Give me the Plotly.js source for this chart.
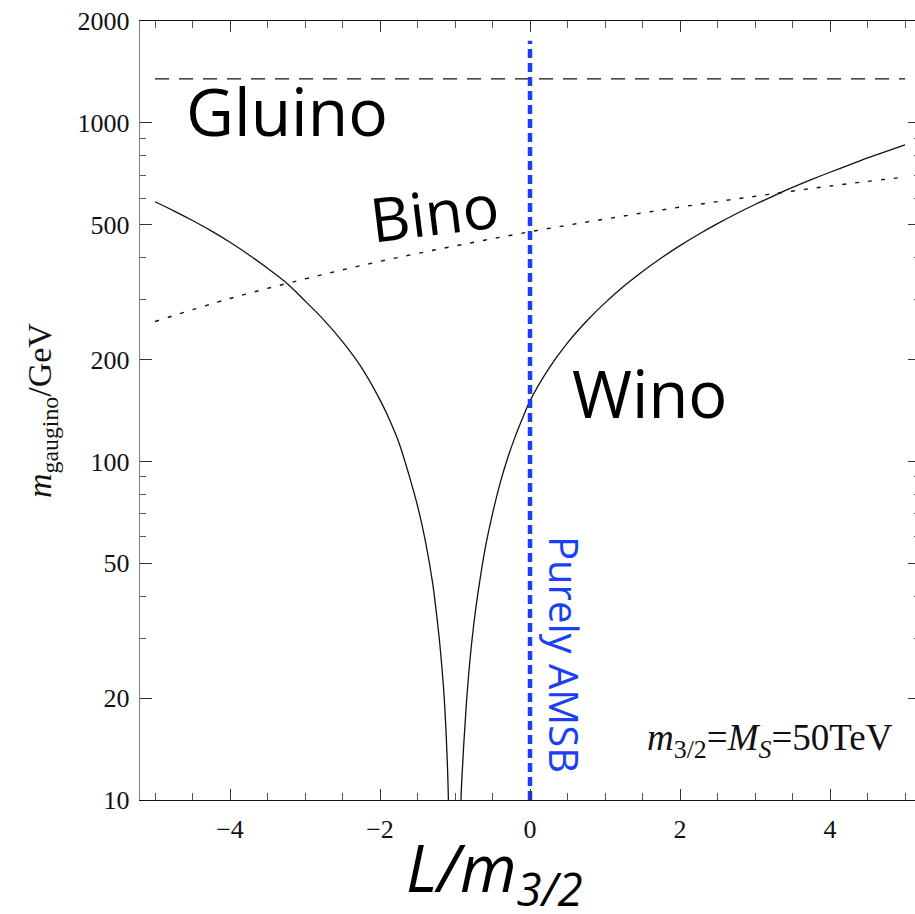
<!DOCTYPE html>
<html>
<head>
<meta charset="utf-8">
<script src="https://cdn.plot.ly/plotly-3.0.1.min.js"></script>
<style>
html,body{margin:0;padding:0;overflow:hidden;background:#fff;}
#plot{width:925px;height:914px;}
</style>
</head>
<body>
<div id="plot"></div>
<script>
// ---- data ----
const winoLeftX  = [-5, -4.75, -4.5, -4.25, -4, -3.75, -3.5, -3.25, -3, -2.75, -2.5, -2.25, -2, -1.875, -1.75, -1.625, -1.5, -1.4, -1.3, -1.25, -1.2, -1.15, -1.12, -1.1, -1.09, -1.085];
const winoLeftY  = [585, 550, 515, 480, 444, 408, 372, 337, 298, 262, 226, 190, 152, 133, 114, 93, 74, 59, 44, 36, 28.5, 21, 16, 12.5, 10.5, 9];
const winoRightX = [-0.915, -0.92, -0.9, -0.88, -0.85, -0.8, -0.75, -0.7, -0.6, -0.5, -0.4, -0.3, -0.2, -0.1, 0, 0.25, 0.5, 0.75, 1, 1.25, 1.5, 1.75, 2, 2.25, 2.5, 2.75, 3, 3.25, 3.5, 3.75, 4, 4.25, 4.5, 4.75, 5];
const winoRightY = [9, 10, 12.5, 15, 19, 26, 33, 40, 55, 70, 86, 102, 118, 134, 151, 188, 224, 259, 294, 329, 364, 399, 434, 469, 504, 539, 574, 609, 645, 680, 715, 750, 788, 824, 861];
const binoX = [-5, -4, -3, -2, -1, 0, 1, 2, 3, 4, 5];
const binoY = [259, 303, 346, 390, 433, 477, 520, 564, 607, 651, 692];
const gluinoX = [-5, 5];
const gluinoY = [1350, 1350];
const amsbX = [0, 0];
const amsbY = [10, 1750];
const xTickVals = [-4, -2, 0, 2, 4];
const xTickText = ['\u22124', '\u22122', '0', '2', '4'];
const xMinorVals = [-5, -4.5, -3.5, -3, -2.5, -1.5, -1, -0.5, 0.5, 1, 1.5, 2.5, 3, 3.5, 4.5, 5];
const yTickVals = [10, 20, 50, 100, 200, 500, 1000, 2000];
const yTickText = ['10', '20', '50', '100', '200', '500', '1000', '2000'];
const yMinorVals = [30, 40, 60, 70, 80, 90, 300, 400, 600, 700, 800, 900];

const blue = '#1a40f5';
const serif = 'Liberation Serif, Times New Roman, serif';
const sans = 'Open Sans, sans-serif';

const traces = [
  {x: winoLeftX, y: winoLeftY, mode: 'lines', line: {color: '#111', width: 1.3, shape: 'spline', smoothing: 1}, hoverinfo: 'skip'},
  {x: winoRightX, y: winoRightY, mode: 'lines', line: {color: '#111', width: 1.3, shape: 'spline', smoothing: 1}, hoverinfo: 'skip'},
  {x: binoX, y: binoY, mode: 'lines', line: {color: '#111', width: 1.4, dash: '4px,9px', shape: 'spline'}, hoverinfo: 'skip'},
  {x: gluinoX, y: gluinoY, mode: 'lines', line: {color: '#111', width: 1.3, dash: '14px,10px'}, hoverinfo: 'skip'},
  {x: amsbX, y: amsbY, mode: 'lines', line: {color: blue, width: 4.5, dash: '9px,5px'}, hoverinfo: 'skip'}
];

// paper coords from pixel positions in the 780x779 plot area
const L = 140, T = 21, W = 780, H = 779;
function px(xp) { return (xp - L) / W; }
function py(yp) { return (T + H - yp) / H; }

const layout = {
  width: 925, height: 914,
  margin: {l: L, r: 925 - L - W, t: T, b: 914 - T - H},
  paper_bgcolor: '#fff', plot_bgcolor: '#fff',
  showlegend: false,
  xaxis: {
    range: [-5.2, 5.2], showgrid: false, zeroline: false,
    tickmode: 'array', tickvals: xTickVals, ticktext: xTickText,
    ticks: 'inside', ticklen: 11, tickwidth: 1, tickcolor: '#333',
    showline: true, linecolor: '#111', linewidth: 1.3, mirror: 'ticks',
    tickfont: {family: serif, size: 26, color: '#111'},
    ticklabelstandoff: 5,
    minor: {tickmode: 'array', tickvals: xMinorVals, ticks: 'inside', ticklen: 7, tickwidth: 1, tickcolor: '#555', showgrid: false}
  },
  yaxis: {
    type: 'log', range: [1, Math.log10(2000)], showgrid: false, zeroline: false,
    tickmode: 'array', tickvals: yTickVals, ticktext: yTickText,
    ticks: 'inside', ticklen: 12, tickwidth: 1, tickcolor: '#333',
    showline: true, linecolor: '#808080', linewidth: 1.3, mirror: 'ticks',
    tickfont: {family: serif, size: 26, color: '#111'},
    ticklabelstandoff: 4,
    minor: {tickmode: 'array', tickvals: yMinorVals, ticks: 'inside', ticklen: 6, tickwidth: 1, tickcolor: '#555', showgrid: false}
  },
  annotations: [
    {text: 'Gluino', xref: 'paper', yref: 'paper', x: px(287), y: py(110), xanchor: 'center', yanchor: 'middle', showarrow: false,
     font: {family: sans, size: 66, color: '#000'}},
    {text: 'Bino', xref: 'paper', yref: 'paper', x: px(434), y: py(212), xanchor: 'center', yanchor: 'middle', showarrow: false,
     textangle: -7, font: {family: sans, size: 61, color: '#000'}},
    {text: 'Wino', xref: 'paper', yref: 'paper', x: px(649), y: py(393), xanchor: 'center', yanchor: 'middle', showarrow: false,
     font: {family: sans, size: 65, color: '#000'}},
    {text: 'Purely AMSB', xref: 'paper', yref: 'paper', x: px(565), y: py(654), xanchor: 'center', yanchor: 'middle', showarrow: false,
     textangle: 90, font: {family: sans, size: 40, color: blue}},
    {text: '<i>m</i><sub>3/2</sub>=<i>M</i><sub><i>S</i></sub>=50TeV', xref: 'paper', yref: 'paper', x: px(770), y: py(740), xanchor: 'center', yanchor: 'middle', showarrow: false,
     font: {family: serif, size: 37, color: '#111'}},
    {text: '<i>L/m<sub>3/2</sub></i>', xref: 'paper', yref: 'paper', x: px(494), y: py(871), xanchor: 'center', yanchor: 'middle', showarrow: false,
     font: {family: sans, size: 65, color: '#000'}},
    {text: '<i>m</i><sub>gaugino</sub>/GeV', xref: 'paper', yref: 'paper', x: px(42), y: py(411), xanchor: 'center', yanchor: 'middle', showarrow: false,
     textangle: -90, font: {family: serif, size: 34, color: '#111'}}
  ]
};

Plotly.newPlot('plot', traces, layout, {staticPlot: true, displayModeBar: false});
</script>
</body>
</html>
